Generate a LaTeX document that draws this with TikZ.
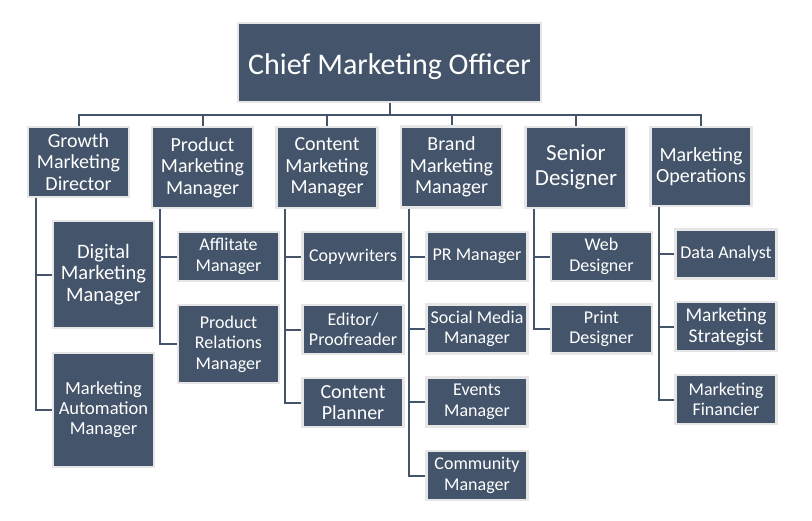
\documentclass[tikz,border=0pt]{standalone}
\usepackage{fontspec}
\setmainfont{Carlito}
\definecolor{boxfill}{HTML}{44546A}
\definecolor{boxrim}{HTML}{E7E6E6}
\tikzset{
    orgbox/.style={draw=boxrim,line width=2.5pt,fill=boxfill,text=white,align=center,inner sep=0pt,minimum width=101pt},
    chief/.style={orgbox,minimum width=303pt,minimum height=79pt,text height=23pt,text depth=0pt,font=\fontsize{30}{36}\selectfont},
    head/.style={orgbox,minimum height=81pt,font=\fontsize{20}{21.5}\selectfont},
    staff/.style={orgbox,minimum height=49pt,font=\fontsize{18}{20.5}\selectfont},
    link/.style={draw=boxfill,line width=2pt},
}
\begin{document}
\begin{tikzpicture}[x=1pt,y=-1pt]
\useasboundingbox (0,0) rectangle (812,520);
\node[chief] (cmo) at (389.5,62.5) {Chief Marketing Officer};
% first level
\node[head,minimum height=70pt] (gmd) at (78.5,162) {Growth\\Marketing\\Director};
\node[head] (pmm) at (202.5,167.5) {Product\\Marketing\\Manager};
\node[head] (cmm) at (327,167.5) {Content\\Marketing\\Manager};
\node[head] (bmm) at (451.5,167) {Brand\\Marketing\\Manager};
\node[head,font=\fontsize{23}{25}\selectfont] (sd) at (576,167.5) {Senior\\Designer};
\node[head,minimum height=79pt] (mo) at (701,166.5) {Marketing\\Operations};
% second level
\node[staff,minimum height=107pt,font=\fontsize{20.5}{21.5}\selectfont] (dmm) at (103.5,274.5) {Digital\\Marketing\\Manager};
\node[staff,minimum height=114pt,font=\fontsize{18.5}{20}\selectfont] (mam) at (103.5,410) {Marketing\\Automation\\Manager};
\node[staff] (am) at (228.5,256.5) {Afflitate\\Manager};
\node[staff,minimum height=78pt] (prm) at (228.5,344) {Product\\Relations\\Manager};
\node[staff] (cw) at (353,256.5) {Copywriters};
\node[staff] (ep) at (353,329.5) {Editor/\\Proofreader};
\node[staff,font=\fontsize{20}{21.5}\selectfont] (cp) at (353,402.5) {Content\\Planner};
\node[staff] (pr) at (477,256.5) {PR Manager};
\node[staff] (smm) at (477,329) {Social Media\\Manager};
\node[staff] (em) at (477,402) {Events\\Manager};
\node[staff] (com) at (477,475.5) {Community\\Manager};
\node[staff] (wd) at (601.5,256.5) {Web\\Designer};
\node[staff] (pd) at (601.5,329) {Print\\Designer};
\node[staff] (da) at (726,254) {Data Analyst};
\node[staff,font=\fontsize{19.5}{21}\selectfont] (ms) at (726,326.5) {Marketing\\Strategist};
\node[staff] (mf) at (726,399.5) {Marketing\\Financier};
% connectors
\draw[link] (cmo.south) -- ++(0,12);
\foreach \n in {gmd,pmm,cmm,bmm,sd,mo}
    \draw[link] (cmo.south) ++(0,12) -| (\n.north);
\foreach \p/\c in {gmd/dmm,gmd/mam,pmm/am,pmm/prm,cmm/cw,cmm/ep,cmm/cp,bmm/pr,bmm/smm,bmm/em,bmm/com,sd/wd,sd/pd,mo/da,mo/ms,mo/mf}
    \draw[link] ([xshift=9.5pt]\p.south west) |- (\c.west);
\end{tikzpicture}
\end{document}
